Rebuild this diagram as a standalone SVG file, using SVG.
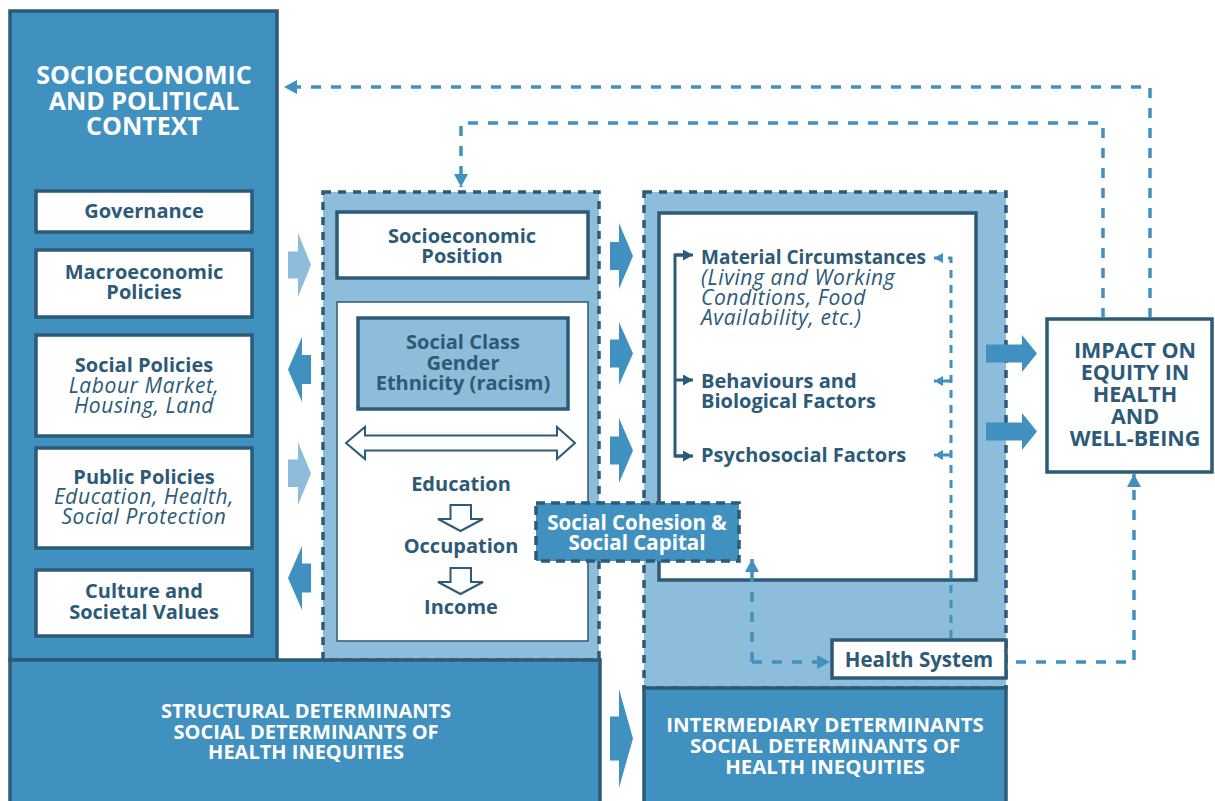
<svg xmlns="http://www.w3.org/2000/svg" width="1215" height="801" viewBox="0 0 1215 801">
<style>
.t{font-family:"Open Sans","Liberation Sans",sans-serif;font-weight:bold;fill:#2c5a77;text-anchor:middle}
.tl{font-family:"Open Sans","Liberation Sans",sans-serif;font-weight:bold;fill:#2c5a77}
.i{font-family:"Open Sans","Liberation Sans",sans-serif;font-style:italic;font-weight:normal;fill:#2c5a77;letter-spacing:0.6px}
.w{font-family:"Open Sans","Liberation Sans",sans-serif;font-weight:bold;fill:#ffffff;text-anchor:middle}
.mid{fill:#4191c0;stroke:#2c5a77;stroke-width:3.5}
.lt{fill:#8dbdda;stroke:#2c5a77;stroke-width:3.5;stroke-dasharray:8 7}
.wb{fill:#ffffff;stroke:#2c5a77;stroke-width:3.5}
.ba{fill:#4191c0}
.bl{fill:#8dbdda}
.hol{fill:#ffffff;stroke:#2c5a77;stroke-width:2}
.dc{fill:none;stroke:#4191c0;stroke-width:3.5;stroke-dasharray:10 10}
.dc2{fill:none;stroke:#4191c0;stroke-width:3;stroke-dasharray:8 7}
.br{fill:none;stroke:#2c5a77;stroke-width:3}
</style>
<defs>
<marker id="ah" markerUnits="userSpaceOnUse" markerWidth="14" markerHeight="14" refX="13" refY="7" orient="auto"><path d="M0,0 L13,7 L0,14 Z" fill="#4191c0"/></marker>
<marker id="ahs" markerUnits="userSpaceOnUse" markerWidth="10" markerHeight="10" refX="9" refY="5" orient="auto"><path d="M0,0 L9,5 L0,10 Z" fill="#4191c0"/></marker>
<marker id="ahd" markerUnits="userSpaceOnUse" markerWidth="11" markerHeight="11" refX="10" refY="5.5" orient="auto"><path d="M0,0 L10,5.5 L0,11 Z" fill="#2c5a77"/></marker>
</defs>

<g id="context">
<rect class="mid" x="10" y="11" width="267" height="649"/>
<text class="w" font-size="25"><tspan x="144" y="84">SOCIOECONOMIC</tspan><tspan x="144" y="110">AND POLITICAL</tspan><tspan x="144" y="135">CONTEXT</tspan></text>
</g>
<g id="governance">
<rect class="wb" x="36" y="191" width="216" height="41"/>
<text class="t" font-size="20" x="144" y="218">Governance</text>
</g>
<g id="macro">
<rect class="wb" x="36" y="250" width="216" height="67"/>
<text class="t" font-size="20"><tspan x="144" y="279">Macroeconomic</tspan><tspan x="144" y="299">Policies</tspan></text>
</g>
<g id="social-policies">
<rect class="wb" x="36" y="335" width="216" height="101"/>
<text class="t" font-size="20" x="144" y="372">Social Policies</text>
<text class="i" font-size="21" text-anchor="middle"><tspan x="144" y="393">Labour Market,</tspan><tspan x="144" y="413">Housing, Land</tspan></text>
</g>
<g id="public-policies">
<rect class="wb" x="36" y="448" width="216" height="100"/>
<text class="t" font-size="20" x="144" y="484">Public Policies</text>
<text class="i" font-size="21" text-anchor="middle"><tspan x="144" y="504">Education, Health,</tspan><tspan x="144" y="524">Social Protection</tspan></text>
</g>
<g id="culture">
<rect class="wb" x="36" y="570" width="216" height="66"/>
<text class="t" font-size="20"><tspan x="144" y="598">Culture and</tspan><tspan x="144" y="619">Societal Values</tspan></text>
</g>

<g id="structural-column">
<rect class="lt" x="323" y="192" width="276" height="468"/>
</g>
<g id="intermediary-column">
<rect class="lt" x="644" y="192" width="362" height="496"/>
</g>

<g id="structural">
<rect class="mid" x="10" y="660" width="590" height="150"/>
<text class="w" font-size="20"><tspan x="306" y="718">STRUCTURAL DETERMINANTS</tspan><tspan x="306" y="739">SOCIAL DETERMINANTS OF</tspan><tspan x="306" y="759">HEALTH INEQUITIES</tspan></text>
</g>
<g id="intermediary">
<rect class="mid" x="644" y="688" width="362" height="120"/>
<text class="w" font-size="20.4"><tspan x="825" y="732">INTERMEDIARY DETERMINANTS</tspan><tspan x="825" y="753">SOCIAL DETERMINANTS OF</tspan><tspan x="825" y="774">HEALTH INEQUITIES</tspan></text>
</g>

<g id="socioeconomic-position">
<rect class="wb" x="337" y="212" width="251" height="66"/>
<text class="t" font-size="20"><tspan x="462" y="243">Socioeconomic</tspan><tspan x="462" y="263">Position</tspan></text>
</g>
<g id="position-detail">
<rect x="337" y="302" width="251" height="339" fill="#ffffff" stroke="#2c5a77" stroke-width="1.5"/>
</g>
<g id="social-class">
<rect x="358" y="318" width="210" height="91" fill="#8dbdda" stroke="#2c5a77" stroke-width="3.5"/>
<text class="t" font-size="20"><tspan x="463" y="349">Social Class</tspan><tspan x="463" y="370">Gender</tspan><tspan x="463" y="390">Ethnicity (racism)</tspan></text>
</g>
<g id="education">
<text class="t" font-size="20" x="461" y="491">Education</text>
</g>
<g id="occupation">
<text class="t" font-size="20" x="461" y="553">Occupation</text>
</g>
<g id="income">
<text class="t" font-size="20" x="461" y="614">Income</text>
</g>

<g id="circumstances">
<rect class="wb" x="659" y="213" width="317" height="367"/>
<text class="tl" font-size="19" x="701" y="264">Material Circumstances</text>
<text class="i" font-size="21"><tspan x="701" y="285">(Living and Working</tspan><tspan x="701" y="305">Conditions, Food</tspan><tspan x="701" y="325">Availability, etc.)</tspan></text>
<text class="tl" font-size="20"><tspan x="701" y="388">Behaviours and</tspan><tspan x="701" y="408">Biological Factors</tspan></text>
<text class="tl" font-size="20" x="701" y="462">Psychosocial Factors</text>
</g>

<g id="impact">
<rect class="wb" x="1047" y="319" width="165" height="153"/>
<text class="t" font-size="21.5"><tspan x="1135" y="358">IMPACT ON</tspan><tspan x="1135" y="380">EQUITY IN</tspan><tspan x="1135" y="402">HEALTH</tspan><tspan x="1135" y="424">AND</tspan><tspan x="1135" y="446">WELL-BEING</tspan></text>
</g>

<g id="connectors">
<path class="bl" d="M288,251.5 L298,251.5 L298,233 L311,265 L298,297 L298,278.5 L288,278.5 Z"/>
<path class="ba" d="M311,355 L302,355 L302,337 L288,369.5 L302,402 L302,384 L311,384 Z"/>
<path class="bl" d="M288,459.5 L298,459.5 L298,442 L311,473.5 L298,505 L298,487 L288,487 Z"/>
<path class="ba" d="M311,563.5 L302,563.5 L302,546 L288,578 L302,610 L302,592.5 L311,592.5 Z"/>
<path class="ba" d="M610,242 L619,242 L619,223 L633,256 L619,289 L619,270 L610,270 Z"/>
<path class="ba" d="M610,339.5 L619,339.5 L619,322 L633,353.5 L619,385 L619,367.5 L610,367.5 Z"/>
<path class="ba" d="M610,436.5 L619,436.5 L619,418 L633,450.5 L619,483 L619,464.5 L610,464.5 Z"/>
<path class="ba" d="M610,716.5 L619,716.5 L619,689 L633,738.5 L619,788 L619,760.5 L610,760.5 Z"/>
<path class="ba" d="M986,344.5 L1022,344.5 L1022,335 L1037,353.5 L1022,372 L1022,362.5 L986,362.5 Z"/>
<path class="ba" d="M986,422.5 L1022,422.5 L1022,413 L1037,431.5 L1022,450 L1022,440.5 L986,440.5 Z"/>
<path class="hol" d="M346,443 L365,427 L365,435.5 L557,435.5 L557,427 L575,443 L557,459 L557,450.5 L365,450.5 L365,459 Z"/>
<path class="hol" d="M450.5,505 L471,505 L471,519 L483,519 L460.5,531 L438,519 L450.5,519 Z"/>
<path class="hol" d="M450.5,568 L471,568 L471,582 L483,582 L460.5,594 L438,582 L450.5,582 Z"/>
<path class="br" d="M687,255 L675,255 L675,456 L687,456"/>
<path class="br" d="M675,255 L693,255" marker-end="url(#ahd)"/>
<path class="br" d="M675,456 L693,456" marker-end="url(#ahd)"/>
<path class="br" d="M675,380 L693,380" marker-end="url(#ahd)"/>
<path class="dc" d="M1150,318 L1150,87 L284,87" marker-end="url(#ah)"/>
<path class="dc" d="M1103,318 L1103,123 L461,123 L461,187" marker-end="url(#ah)"/>
<path class="dc" d="M1016,662 L1134,662 L1134,474" marker-end="url(#ah)"/>
<path class="dc" d="M752,662 L752,559" marker-end="url(#ah)"/>
<path class="dc" d="M752,662 L830,662" marker-end="url(#ah)"/>
<path class="dc2" d="M951,638 L951,258 L934,258" marker-end="url(#ahs)"/>
<path class="dc2" d="M951,381 L934,381" marker-end="url(#ahs)"/>
<path class="dc2" d="M951,455 L934,455" marker-end="url(#ahs)"/>
</g>

<g id="social-cohesion">
<rect x="536" y="503" width="203" height="58" fill="#4191c0" stroke="#2c5a77" stroke-width="3.5" stroke-dasharray="9 6"/>
<text class="w" font-size="20.5"><tspan x="637" y="530">Social Cohesion &amp;</tspan><tspan x="637" y="550">Social Capital</tspan></text>
</g>
<g id="health-system">
<rect class="wb" x="832" y="640" width="174" height="38"/>
<text class="t" font-size="20.5" x="919" y="667">Health System</text>
</g>
</svg>
